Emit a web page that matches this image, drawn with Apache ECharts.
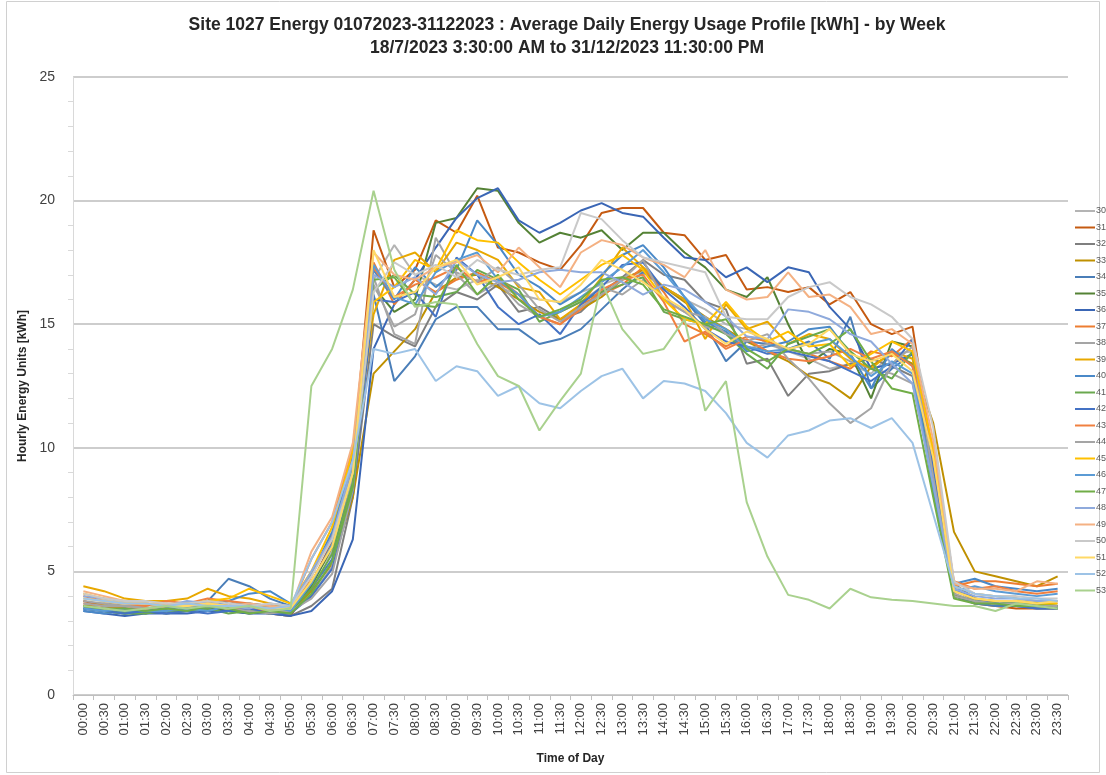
<!DOCTYPE html>
<html><head><meta charset="utf-8">
<script src="https://cdn.jsdelivr.net/npm/echarts@6/dist/echarts.min.js"></script>
<style>html,body{margin:0;padding:0;background:#fff}#c{width:1106px;height:775px}</style>
</head><body><div id="c"></div>
<script>
var categories = ["00:00","00:30","01:00","01:30","02:00","02:30","03:00","03:30","04:00","04:30","05:00","05:30","06:00","06:30","07:00","07:30","08:00","08:30","09:00","09:30","10:00","10:30","11:00","11:30","12:00","12:30","13:00","13:30","14:00","14:30","15:00","15:30","16:00","16:30","17:00","17:30","18:00","18:30","19:00","19:30","20:00","20:30","21:00","21:30","22:00","22:30","23:00","23:30"];
var weekNames = ["30","31","32","33","34","35","36","37","38","39","40","41","42","43","44","45","46","47","48","49","50","51","52","53"];
var weekColors = ["#B4B4B4","#C55A11","#7F7F7F","#BF9000","#4A7EB8","#548235","#3A66B5","#ED7D31","#A5A5A5","#E8A800","#4A89C8","#6AA84F","#4472C4","#F08040","#A5A5A5","#FFC000","#5B9BD5","#70AD47","#8FAADC","#F4B183","#C9C9C9","#FFD966","#9DC3E6","#A9D18E"];
var w30 = [3.9,3.8,3.7,3.7,3.6,3.7,3.6,3.7,3.6,3.5,3.6,4.6,5.8,8.5,16.8,18.2,17.0,16.6,16.4,16.8,16.5,16.2,16.0,15.9,16.3,16.6,16.9,17.1,16.5,16.0,15.6,15.0,14.8,14.2,13.9,13.6,13.2,13.4,13.0,13.8,13.9,9.0,4.3,3.9,3.8,3.8,3.7,3.7];
var w31 = [3.8,3.6,3.5,3.3,3.5,3.6,3.7,3.5,3.4,3.3,3.2,4.5,6.2,9.5,18.8,16.5,17.2,19.2,18.7,20.2,18.1,17.9,17.5,17.2,18.2,19.5,19.7,19.7,18.7,18.6,17.6,17.8,16.4,16.5,16.3,16.5,15.8,16.3,15.0,14.6,14.9,9.5,4.1,3.7,3.6,3.5,3.5,3.5];
var w32 = [3.6,3.5,3.5,3.4,3.5,3.6,3.5,3.4,3.5,3.3,3.2,3.6,4.3,8.0,15.0,14.5,14.1,15.7,16.3,16.0,16.6,15.5,15.7,15.2,15.5,16.3,16.9,17.6,17.0,16.8,15.9,15.6,13.4,13.6,12.1,13.0,13.1,13.4,13.6,13.3,12.9,9.0,4.3,3.8,3.7,3.6,3.6,3.6];
var w33 = [3.6,3.7,3.6,3.5,3.6,3.5,3.7,3.6,3.7,3.5,3.4,4.2,5.3,8.0,13.0,13.9,14.8,16.3,16.9,17.0,16.5,16.0,15.5,15.2,15.6,16.1,16.8,17.2,16.5,15.9,15.3,14.8,14.3,13.9,13.5,12.9,12.6,12.0,13.3,13.8,13.4,11.0,6.6,5.0,4.8,4.6,4.4,4.8];
var w34 = [3.5,3.4,3.3,3.4,3.5,3.6,3.8,4.7,4.4,3.9,3.6,4.3,5.5,9.0,16.2,12.7,13.7,15.2,15.7,15.7,14.8,14.8,14.2,14.4,14.8,15.6,16.4,17.1,16.5,16.0,15.0,13.5,14.3,14.2,14.0,14.3,13.6,15.3,12.4,13.2,13.8,8.6,4.0,3.7,3.6,3.6,3.5,3.5];
var w35 = [3.5,3.4,3.3,3.4,3.3,3.4,3.5,3.4,3.3,3.4,3.3,4.4,6.0,9.2,16.5,15.5,16.0,19.1,19.3,20.5,20.4,19.1,18.3,18.7,18.5,18.8,18.0,18.7,18.7,17.9,17.3,16.4,16.1,16.9,15.0,13.4,14.0,13.8,12.0,14.3,14.1,9.2,4.0,3.8,3.7,3.6,3.7,3.6];
var w36 = [3.4,3.3,3.2,3.3,3.3,3.3,3.4,3.4,3.3,3.3,3.2,3.4,4.2,6.3,14.0,15.8,16.8,18.1,19.3,20.1,20.5,19.2,18.7,19.1,19.6,19.9,19.5,19.35,18.5,17.7,17.6,16.9,17.3,16.7,17.3,17.1,15.7,14.8,13.2,13.4,13.8,9.0,4.5,3.9,3.7,3.6,3.6,3.6];
var w37 = [3.7,3.6,3.5,3.5,3.6,3.7,3.6,3.5,3.5,3.4,3.3,4.8,6.5,9.8,17.5,15.8,16.8,16.3,16.8,17.1,16.7,16.2,15.3,15.0,15.8,16.2,16.6,17.3,16.3,15.0,14.6,14.1,14.5,14.3,14.0,13.8,13.5,13.2,13.9,13.7,14.4,9.4,4.4,4.6,4.6,4.5,4.4,4.5];
var w38 = [3.8,3.7,3.6,3.6,3.7,3.6,3.7,3.8,3.6,3.5,3.4,4.0,5.2,8.8,16.9,14.6,14.2,18.5,17.0,16.2,16.7,15.8,15.3,15.5,15.9,16.5,16.2,16.8,16.0,15.5,14.9,14.7,14.0,14.2,14.0,13.8,13.9,13.5,13.2,13.0,12.6,8.8,4.1,3.8,3.7,3.7,3.6,3.6];
var w39 = [4.4,4.2,3.9,3.8,3.8,3.9,4.3,4.0,3.9,3.7,3.5,4.6,6.0,9.3,15.4,17.6,17.9,17.1,18.3,18.0,17.6,16.5,16.3,15.2,15.8,16.9,18.1,17.3,16.5,16.0,14.4,15.8,14.8,15.1,14.2,14.6,14.4,13.6,13.2,13.9,13.6,9.7,4.4,4.1,4.0,3.9,3.8,3.8];
var w40 = [3.4,3.3,3.4,3.3,3.5,3.6,3.5,3.8,4.1,4.2,3.7,4.9,6.6,9.6,17.2,16.0,17.3,16.5,17.2,19.2,18.2,17.0,16.5,15.8,16.3,17.0,17.8,18.2,17.3,16.1,15.1,14.7,13.9,14.1,14.3,14.8,14.9,13.8,12.4,14.0,13.3,8.2,4.5,4.7,4.4,4.3,4.2,4.3];
var w41 = [3.6,3.4,3.3,3.3,3.4,3.4,3.5,3.3,3.4,3.3,3.4,4.3,5.7,8.6,16.4,17.0,16.2,16.1,16.3,17.2,16.8,16.4,15.1,15.5,15.9,16.3,16.6,16.9,15.5,15.2,15.0,14.6,13.8,13.2,14.2,14.5,14.8,13.9,13.2,12.8,13.9,8.9,4.0,3.8,3.8,3.7,3.7,3.6];
var w42 = [3.5,3.4,3.3,3.4,3.3,3.4,3.3,3.4,3.5,3.3,3.3,4.0,5.1,8.2,16.0,15.9,16.3,15.3,17.7,17.0,15.7,15.0,15.4,14.6,15.8,16.5,17.4,17.5,16.4,15.7,14.8,14.3,14.1,13.8,13.9,13.7,13.5,13.1,12.7,13.3,14.4,9.1,4.3,3.9,3.7,3.6,3.5,3.5];
var w43 = [4.0,3.8,3.7,3.6,3.8,3.7,3.9,3.8,3.7,3.6,3.5,5.5,7.0,10.0,17.3,16.1,16.6,16.9,17.3,16.7,16.9,16.2,15.3,15.0,15.6,16.4,16.8,17.0,15.9,14.3,14.7,14.0,14.4,13.9,13.6,13.5,13.7,14.0,13.6,13.9,13.3,10.0,4.6,4.3,4.4,4.2,4.1,4.2];
var w44 = [3.7,3.6,3.6,3.5,3.6,3.5,3.6,3.5,3.4,3.3,3.4,3.9,4.9,8.3,16.6,14.9,15.4,17.8,17.1,16.7,17.3,16.6,15.6,15.1,15.7,16.2,16.8,17.6,16.0,15.5,15.3,14.6,14.3,14.6,13.6,12.8,11.8,11.0,11.6,13.4,14.1,8.8,4.0,3.8,3.7,3.7,3.6,3.6];
var w45 = [4.1,3.9,3.8,3.7,3.6,3.7,3.8,3.9,4.3,4.0,3.7,5.0,6.8,9.9,15.9,16.5,17.6,17.2,18.8,18.4,18.3,17.5,16.8,16.2,16.8,17.4,17.8,17.2,16.0,15.2,15.0,15.9,14.9,14.3,14.7,14.1,14.2,13.3,13.8,14.3,13.9,9.9,4.2,3.9,3.8,3.8,3.7,3.7];
var w46 = [3.5,3.4,3.5,3.4,3.4,3.5,3.4,3.6,3.7,3.6,3.4,4.5,6.1,9.1,17.4,16.1,15.8,17.1,17.6,17.9,16.8,16.2,15.3,15.5,16.1,16.7,17.3,18.0,17.1,16.1,15.2,14.8,14.1,13.9,14.0,14.2,14.4,13.7,12.9,13.5,13.0,8.4,4.2,4.4,4.2,4.1,4.0,4.1];
var w47 = [3.6,3.5,3.5,3.4,3.5,3.4,3.6,3.5,3.3,3.4,3.3,4.1,5.4,8.4,16.8,16.9,15.8,15.7,17.4,16.2,17.0,16.0,15.3,15.6,16.0,16.8,16.9,16.6,15.6,15.3,15.0,15.2,14.0,13.5,14.0,13.8,14.2,14.8,13.5,12.4,12.2,8.0,3.9,3.7,3.7,3.6,3.6,3.5];
var w48 = [4.0,3.9,3.8,3.7,3.6,3.8,3.7,3.6,3.5,3.7,3.6,5.0,6.4,9.4,17.0,16.5,16.9,16.2,17.6,17.0,16.7,16.8,17.1,17.2,17.1,17.1,16.7,16.2,16.6,16.4,15.9,15.3,14.5,14.4,15.6,15.5,15.2,14.6,14.3,13.4,12.6,8.5,4.3,4.0,3.9,3.9,3.8,3.8];
var w49 = [4.2,4.0,3.8,3.7,3.7,3.6,3.7,3.6,3.7,3.6,3.5,5.8,7.2,10.2,17.9,17.0,16.8,17.3,17.5,17.8,17.1,18.1,17.3,16.5,17.9,18.4,18.2,17.7,17.4,16.9,18.0,16.4,16.0,16.1,17.1,16.1,16.2,15.7,14.6,14.8,14.2,10.3,4.5,4.3,4.3,4.2,4.6,4.5];
var w50 = [4.1,3.9,3.8,3.8,3.7,3.7,3.8,3.7,3.6,3.7,3.6,4.8,6.3,9.0,16.3,17.5,17.0,17.4,16.9,17.6,17.2,17.0,17.2,17.3,19.5,19.25,18.4,17.7,17.5,17.3,17.1,15.3,15.2,15.2,16.1,16.5,16.7,16.1,15.8,15.3,14.4,10.8,4.6,4.1,4.0,4.0,3.9,3.9];
var w51 = [3.9,3.8,3.7,3.7,3.6,3.6,3.7,3.6,3.6,3.5,3.5,4.6,6.0,9.0,18.0,16.1,16.3,17.3,17.6,16.6,16.9,17.3,16.0,15.9,16.6,17.6,17.2,16.7,16.1,15.6,14.8,14.2,14.7,14.4,14.0,14.2,14.8,13.8,13.5,13.8,13.1,9.6,4.2,3.9,3.8,3.8,3.7,3.8];
var w52 = [3.9,3.8,3.7,3.7,3.6,3.7,3.6,3.6,3.6,3.5,3.6,5.5,7.0,9.5,14.0,13.8,14.0,12.7,13.3,13.1,12.1,12.5,11.8,11.6,12.3,12.9,13.2,12.0,12.7,12.6,12.3,11.4,10.2,9.6,10.5,10.7,11.1,11.2,10.8,11.2,10.2,7.3,4.4,4.1,4.0,3.9,3.9,3.8];
var w53 = [3.6,3.5,3.4,3.5,3.6,3.5,3.6,3.5,3.6,3.4,3.5,12.5,14.0,16.4,20.4,17.2,15.7,15.9,15.8,14.2,12.9,12.5,10.7,11.9,13.0,16.7,14.8,13.8,14.0,15.2,11.5,12.7,7.8,5.6,4.05,3.85,3.5,4.3,3.95,3.85,3.8,3.7,3.6,3.6,3.4,3.7,3.6,3.5];
var weekData = [w30,w31,w32,w33,w34,w35,w36,w37,w38,w39,w40,w41,w42,w43,w44,w45,w46,w47,w48,w49,w50,w51,w52,w53];

var FONT = '"Liberation Sans", Arial, sans-serif';
var chart = echarts.init(document.getElementById('c'), null, {renderer:'canvas'});
var series = weekNames.map(function(n,i){
  return {name:n, type:'line', data:weekData[i], symbol:'none', showSymbol:false,
    lineStyle:{width:2, color:weekColors[i]}, itemStyle:{color:weekColors[i]}, animation:false};
});
chart.setOption({
  animation:false,
  backgroundColor:'#fff',
  graphic:[{type:'rect', shape:{x:6.5,y:1.5,width:1093,height:771}, style:{fill:'none', stroke:'#D0D0D0', lineWidth:1}, z:-1}],
  title:{text:'Site 1027 Energy 01072023-31122023 : Average Daily Energy Usage Profile [kWh] - by Week\n18/7/2023 3:30:00 AM to 31/12/2023 11:30:00 PM',
    left:562, textAlign:'center', top:9,
    textStyle:{fontFamily:FONT, fontSize:17.5, fontWeight:'bold', color:'#262626', lineHeight:23}},
  legend:{orient:'vertical', left:1075, top:206, padding:0, itemWidth:20, itemHeight:10, itemGap:6.5,
    icon:'path://M0,0 L20,0 L20,2 L0,2 Z',
    textStyle:{fontFamily:FONT, fontSize:9, color:'#595959', lineHeight:10, padding:[0,0,0,-4]}},
  grid:{left:73, right:38, top:77, bottom:80, containLabel:false},
  xAxis:{type:'category', data:categories, boundaryGap:true,
    name:'Time of Day', nameLocation:'middle', nameGap:58,
    nameTextStyle:{fontFamily:FONT, fontSize:12, fontWeight:'bold', color:'#262626'},
    axisLine:{lineStyle:{color:'#BFBFBF', width:1}},
    axisTick:{show:true, alignWithLabel:false, length:5, lineStyle:{color:'#BFBFBF'}},
    axisLabel:{rotate:90, interval:0, fontFamily:FONT, fontSize:13, color:'#404040', margin:8}},
  yAxis:{type:'value', min:0, max:25, interval:5,
    name:'Hourly Energy Units [kWh]', nameLocation:'middle', nameGap:37, nameRotate:90,
    nameTextStyle:{fontFamily:FONT, fontSize:12, fontWeight:'bold', color:'#262626'},
    axisLine:{show:true, lineStyle:{color:'#D9D9D9'}},
    axisTick:{show:false},
    minorTick:{show:true, splitNumber:5, length:5, lineStyle:{color:'#D9D9D9'}},
    splitLine:{lineStyle:{color:'#BDBDBD', width:1.5}},
    axisLabel:{fontFamily:FONT, fontSize:14, color:'#404040', margin:18}},
  series:series
});
</script></body></html>
